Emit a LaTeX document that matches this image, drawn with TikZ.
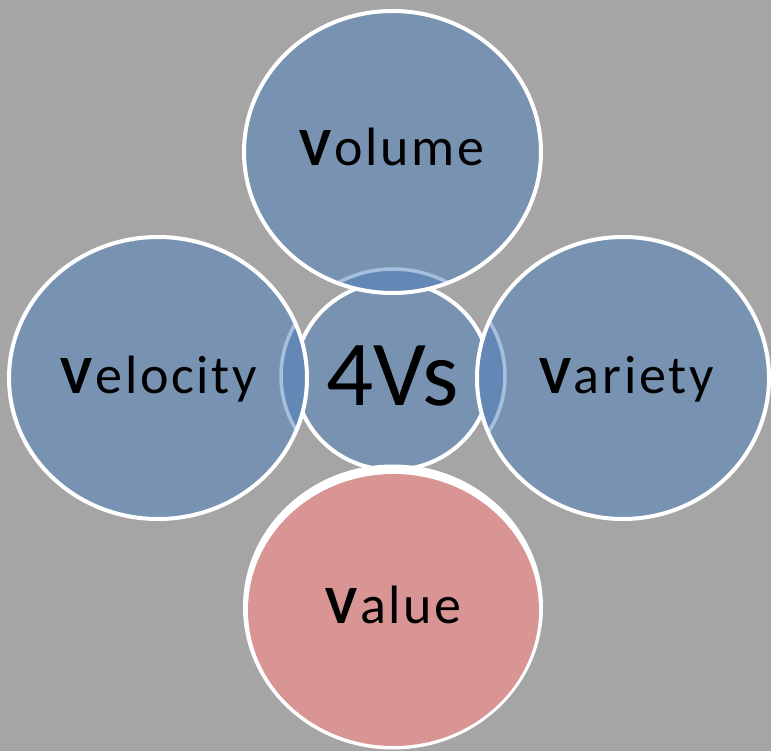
\documentclass[tikz,border=0pt]{standalone}
\usepackage{fontspec}
\setmainfont{Carlito}
\definecolor{bg}{HTML}{A5A5A5}
\definecolor{ellfill}{HTML}{7893B2}
\definecolor{lens}{HTML}{6388B5}
\definecolor{ringc}{HTML}{A7BFDF}
\definecolor{pinkc}{HTML}{D99594}
\newfontfamily\lblfont[LetterSpace=5]{Carlito}
\tikzset{
  outer/.style={fill=ellfill},
  rim/.style={draw=white, line width=4pt},
  lbl/.style={anchor=base, inner sep=0pt, font=\lblfont\fontsize{54}{58}\selectfont},
}
\begin{document}
\begin{tikzpicture}[x=1pt,y=-1pt]
\fill[bg] (0,0) rectangle (771,751);
\useasboundingbox (0,0) rectangle (771,751);
% centre circle
\fill[ellfill] (392.5,376) ellipse [x radius=97.5, y radius=94];
\draw[rim] (392.5,376) ellipse [x radius=97.5, y radius=94];
% outer ellipses with lens
\foreach \cx/\cy/\rx/\ry in {392.5/152/148.5/141, 158/378/149/141, 623/378/146/141}{
  \fill[outer] (\cx,\cy) ellipse [x radius=\rx, y radius=\ry];
  \begin{scope}
    \clip (\cx,\cy) ellipse [x radius=\rx, y radius=\ry];
    \fill[lens] (393,376) ellipse [x radius=113, y radius=108];
    \draw[ringc, line width=3.5pt] (393,376) ellipse [x radius=112, y radius=107];
  \end{scope}
  \draw[rim] (\cx,\cy) ellipse [x radius=\rx, y radius=\ry];
}
% bottom ellipse
\fill[white] (393,607) ellipse [x radius=150, y radius=142.5];
\fill[pinkc] (393.5,610) ellipse [x radius=145.5, y radius=136];
% labels
\node[lbl] (volume) at (392,166) {\textbf{V}olume};
\node[lbl] (velocity) at (159,393) {\textbf{V}elocity};
\node[lbl] (variety) at (626.5,393) {\textbf{V}ariety};
\node[lbl] (value) at (393.5,623) {\textbf{V}alue};
\node[anchor=base, inner sep=0pt, font=\fontsize{93}{100}\selectfont] (fourvs) at (392.5,405) {4Vs};
\end{tikzpicture}
\end{document}
